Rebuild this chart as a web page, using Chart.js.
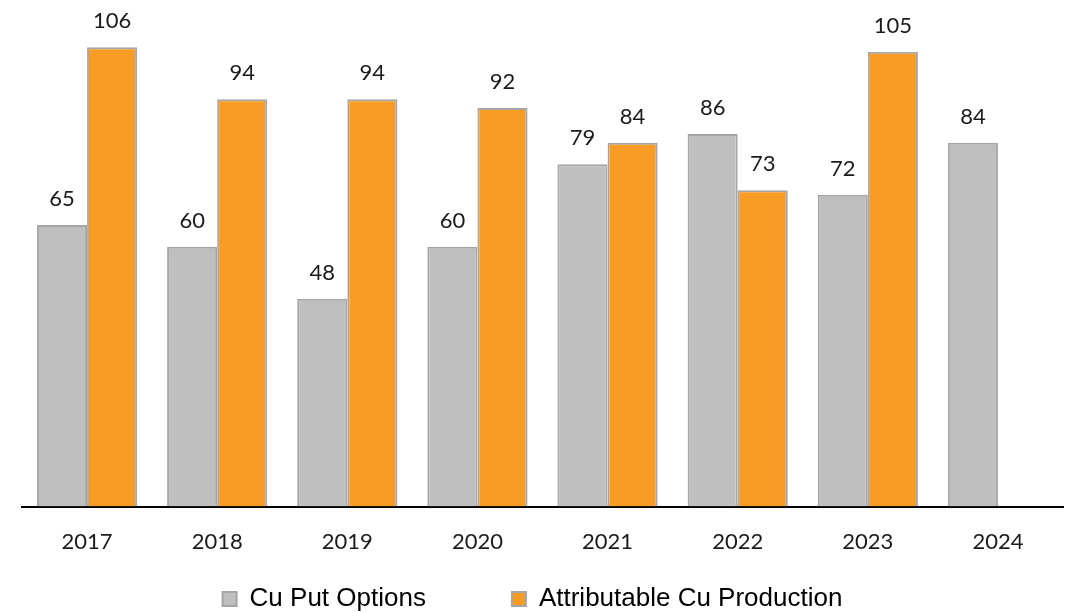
<!DOCTYPE html>
<html>
<head>
<meta charset="utf-8">
<script src="https://cdn.jsdelivr.net/npm/chart.js@4/dist/chart.umd.min.js"></script>
<style>
html,body{margin:0;padding:0;background:#fff;}
#wrap{width:1071px;height:612px;}
</style>
</head>
<body>
<div id="wrap"><canvas id="c" width="1071" height="612"></canvas></div>
<script>
const categories = ["2017","2018","2019","2020","2021","2022","2023","2024"];
const putOptions = [65, 60, 48, 60, 79, 86, 72, 84];
const production = [106, 94, 94, 92, 84, 73, 105, null];
const seriesNames = ["Cu Put Options", "Attributable Cu Production"];

const LEGEND_PAD = 86;
const LEGEND_ITEM_TOP = 586;
const LEGEND_SHIFT = -10;

const valueLabels = {
  id: 'valueLabels',
  afterDatasetsDraw(chart) {
    const ctx = chart.ctx;
    ctx.save();
    ctx.font = '22px Lato';
    ctx.fillStyle = '#1a1a1a';
    ctx.textAlign = 'center';
    ctx.textBaseline = 'middle';
    chart.data.datasets.forEach((ds, di) => {
      const meta = chart.getDatasetMeta(di);
      meta.data.forEach((el, i) => {
        const v = ds.data[i];
        if (v === null || v === undefined) return;
        ctx.fillText(String(v), el.x, el.y - 26);
      });
    });
    ctx.restore();
  }
};

const legendPlace = {
  id: 'legendPlace',
  afterLayout(chart) {
    const lg = chart.legend;
    if (!lg) return;
    lg.top = LEGEND_ITEM_TOP - LEGEND_PAD;
    lg.left += LEGEND_SHIFT;
    lg.right += LEGEND_SHIFT;
  }
};

new Chart(document.getElementById('c'), {
  type: 'bar',
  data: {
    labels: categories,
    datasets: [
      {
        label: seriesNames[0],
        data: putOptions,
        backgroundColor: '#bfbfbf',
        borderColor: '#a6a6a6',
        borderWidth: 2,
        borderSkipped: 'bottom'
      },
      {
        label: seriesNames[1],
        data: production,
        backgroundColor: '#f89c26',
        borderColor: '#a6a6a6',
        borderWidth: 2,
        borderSkipped: 'bottom'
      }
    ]
  },
  options: {
    responsive: false,
    animation: false,
    layout: { padding: { left: 22, right: 8, top: 30, bottom: 0 } },
    datasets: { bar: { categoryPercentage: 0.77, barPercentage: 1.0 } },
    scales: {
      x: {
        grid: { display: false, drawTicks: false },
        border: { display: true, color: '#000', width: 2 },
        ticks: { font: { family: 'Lato', size: 22 }, color: '#1a1a1a', padding: 22 }
      },
      y: {
        display: false,
        min: 0,
        max: 110
      }
    },
    plugins: {
      legend: {
        position: 'bottom',
        maxHeight: 35,
        labels: {
          font: { family: 'Liberation Sans', size: 26 },
          color: '#000',
          boxWidth: 14,
          boxHeight: 14,
          padding: LEGEND_PAD
        }
      },
      tooltip: { enabled: false }
    }
  },
  plugins: [valueLabels, legendPlace]
});
</script>
</body>
</html>
